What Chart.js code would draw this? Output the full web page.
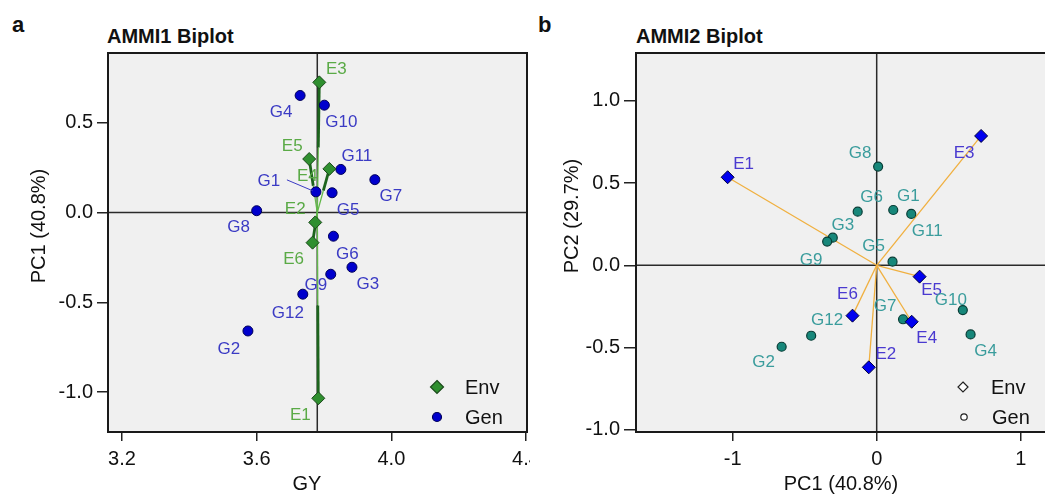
<!DOCTYPE html>
<html>
<head>
<meta charset="utf-8">
<script src="https://cdn.jsdelivr.net/npm/chart.js@4.4.0/dist/chart.umd.min.js"></script>
<style>
  body { margin: 0; background: #fff; width: 1045px; height: 494px; position: relative; overflow: hidden;
         font-family: "Liberation Sans", Arial, sans-serif; }
  .tag { position: absolute; font-weight: bold; color: #111; line-height: 1; white-space: nowrap; }
  #boxA { position: absolute; left: 0; top: 0; width: 530px; height: 494px; overflow: hidden; }
  #boxB { position: absolute; left: 530px; top: 0; width: 515px; height: 494px; overflow: hidden; }
</style>
</head>
<body>
<div class="tag" style="left:12px; top:14px; font-size:22px;">a</div>
<div class="tag" style="left:538px; top:14px; font-size:22px;">b</div>
<div class="tag" style="left:107px; top:26px; font-size:20px;">AMMI1 Biplot</div>
<div class="tag" style="left:636px; top:26px; font-size:20px;">AMMI2 Biplot</div>
<div id="boxA"><canvas id="chartA" width="530" height="494"></canvas></div>
<div id="boxB"><canvas id="chartB" width="522" height="494"></canvas></div>
<script>
// values
const envNames = ['E1', 'E2', 'E3', 'E4', 'E5', 'E6'];
const genNames = ['G1', 'G2', 'G3', 'G4', 'G5', 'G6', 'G7', 'G8', 'G9', 'G10', 'G11', 'G12'];

const envGY = [3.783, 3.774, 3.786, 3.816, 3.756, 3.766];
const genGY = [3.776, 3.574, 3.883, 3.729, 3.824, 3.828, 3.951, 3.600, 3.820, 3.801, 3.850, 3.737];
const meanGY = 3.78;

const envPC1 = [-1.035, -0.055, 0.725, 0.243, 0.298, -0.168];
const genPC1 = [0.115, -0.660, -0.305, 0.652, 0.110, -0.132, 0.183, 0.010, -0.344, 0.598, 0.240, -0.455];

const envPC2 = [0.535, -0.620, 0.786, -0.343, -0.069, -0.306];
const genPC2 = [0.336, -0.495, 0.168, -0.420, 0.022, 0.326, -0.328, 0.600, 0.144, -0.272, 0.312, -0.428];

const gyTicks = [3.2, 3.6, 4.0, 4.4];
const gyTickLabels = ['3.2', '3.6', '4.0', '4.4'];
const pc1TicksA = [-1.0, -0.5, 0.0, 0.5];
const pc1TickLabelsA = ['-1.0', '-0.5', '0.0', '0.5'];
const pc1TicksB = [-1, 0, 1];
const pc1TickLabelsB = ['-1', '0', '1'];
const pc2Ticks = [-1.0, -0.5, 0.0, 0.5, 1.0];
const pc2TickLabels = ['-1.0', '-0.5', '0.0', '0.5', '1.0'];

// label placement (pixel offsets from each point)
const labelOffsetA = {
  E1: [-18, 17], E2: [-20, -13], E3: [17, -13], E4: [-22, 7], E5: [-17, -13], E6: [-19, 17],
  G1: [-47, -11], G2: [-19, 18], G3: [16, 17], G4: [-19, 17], G5: [16, 18], G6: [14, 18],
  G7: [16, 17], G8: [-18, 17], G9: [-15, 11], G10: [17, 17], G11: [16, -13], G12: [-15, 19]
};
const leaderA = { G1: [-29, -12, -3, -1] };
const labelOffsetB = {
  E1: [16, -13], E2: [17, -13], E3: [-17, 17], E4: [15, 17], E5: [12, 14], E6: [-5, -21],
  G1: [15, -14], G2: [-18, 16], G3: [10, -12], G4: [15, 17], G5: [-19, -15], G6: [14, -14],
  G7: [-18, -13], G8: [-18, -13], G9: [-16, 19], G10: [-12, -10], G11: [16, 17], G12: [16, -15]
};

const FONT = '"Liberation Sans", Arial, sans-serif';

function pts(xs, ys) {
  return xs.map((v, i) => ({ x: v, y: ys[i] }));
}

function scaleX(min, max, ticks, labels) {
  return {
    type: 'linear', min: min, max: max,
    afterBuildTicks: s => { s.ticks = ticks.map(v => ({ value: v })); },
    afterFit: s => { s.height = 62; s.paddingLeft = 0; s.paddingRight = 0; },
    grid: { drawOnChartArea: false, drawTicks: true, tickLength: 9, color: '#222', lineWidth: 1.5 },
    border: { display: false },
    ticks: { autoSkip: false, maxRotation: 0, padding: 6, color: '#111',
             font: { family: FONT, size: 20 }, callback: (v, i) => labels[i] },
    title: { display: false }
  };
}

function scaleY(min, max, ticks, labels, width, tickLen) {
  return {
    type: 'linear', min: min, max: max,
    afterBuildTicks: s => { s.ticks = ticks.map(v => ({ value: v })); },
    afterFit: s => { s.width = width; s.paddingTop = 0; s.paddingBottom = 0; },
    grid: { drawOnChartArea: false, drawTicks: true, tickLength: tickLen, color: '#222', lineWidth: 1.5 },
    border: { display: false },
    ticks: { autoSkip: false, padding: 4, color: '#111',
             font: { family: FONT, size: 20 }, callback: (v, i) => labels[i] },
    title: { display: false }
  };
}

function marker(ctx, style, x, y, r, fill, stroke) {
  ctx.beginPath();
  if (style === 'rectRot') {
    ctx.moveTo(x, y - r); ctx.lineTo(x + r, y); ctx.lineTo(x, y + r); ctx.lineTo(x - r, y); ctx.closePath();
  } else {
    ctx.arc(x, y, r, 0, Math.PI * 2);
  }
  if (fill) { ctx.fillStyle = fill; ctx.fill(); }
  ctx.lineWidth = 1.2; ctx.strokeStyle = stroke; ctx.stroke();
}

// background, reference lines, vectors, labels, box, legend, axis titles
function biplot(opt) {
  return {
    id: 'biplot',
    beforeDatasetsDraw(chart) {
      const { ctx, chartArea: a, scales: { x, y } } = chart;
      ctx.save();
      ctx.fillStyle = '#f0f0f0';
      ctx.fillRect(a.left, a.top, a.width, a.height);
      const x0 = x.getPixelForValue(opt.xRef);
      const y0 = y.getPixelForValue(0);
      ctx.strokeStyle = '#2a2a2a';
      ctx.lineWidth = 1.5;
      ctx.beginPath();
      ctx.moveTo(a.left, y0); ctx.lineTo(a.right, y0);
      ctx.moveTo(x0, a.top); ctx.lineTo(x0, a.bottom);
      ctx.stroke();
      opt.vectors(ctx, x, y, x0, y0);
      ctx.restore();
    },
    afterDatasetsDraw(chart) {
      const { ctx, chartArea: a } = chart;
      ctx.save();
      ctx.font = '17px ' + FONT;
      ctx.textAlign = 'center';
      ctx.textBaseline = 'middle';
      chart.data.datasets.forEach((ds, di) => {
        const meta = chart.getDatasetMeta(di);
        const names = ds.label === 'Env' ? envNames : genNames;
        meta.data.forEach((el, i) => {
          const off = opt.offsets[names[i]];
          const lead = opt.leaders && opt.leaders[names[i]];
          if (lead) {
            ctx.strokeStyle = opt.labelColors[di];
            ctx.lineWidth = 1;
            ctx.beginPath();
            ctx.moveTo(el.x + lead[0], el.y + lead[1]);
            ctx.lineTo(el.x + lead[2], el.y + lead[3]);
            ctx.stroke();
          }
          ctx.fillStyle = opt.labelColors[di];
          ctx.fillText(names[i], el.x + off[0], el.y + off[1]);
        });
      });
      ctx.strokeStyle = '#1a1a1a';
      ctx.lineWidth = 2;
      ctx.strokeRect(a.left, a.top, a.width, a.height);
      ctx.restore();
    },
    afterDraw(chart) {
      const ctx = chart.ctx;
      ctx.save();
      ctx.font = '20px ' + FONT;
      ctx.textAlign = 'left';
      ctx.textBaseline = 'middle';
      opt.legend.forEach(it => {
        marker(ctx, it.style, it.x, it.y, it.r, it.fill, it.stroke);
        ctx.fillStyle = '#111';
        ctx.fillText(it.text, it.x + 28, it.y + 1);
      });
      // axis titles
      ctx.textAlign = 'center';
      ctx.fillStyle = '#111';
      ctx.fillText(opt.xTitle.text, opt.xTitle.x, opt.xTitle.y);
      ctx.translate(opt.yTitle.x, opt.yTitle.y);
      ctx.rotate(-Math.PI / 2);
      ctx.fillText(opt.yTitle.text, 0, 0);
      ctx.restore();
    }
  };
}

Chart.defaults.font.family = FONT;

new Chart(document.getElementById('chartA'), {
  type: 'scatter',
  data: {
    datasets: [
      { label: 'Env', data: pts(envGY, envPC1), pointStyle: 'rectRot', pointRadius: 6.5,
        backgroundColor: '#2f8f2f', borderColor: '#1b4a1b', borderWidth: 1 },
      { label: 'Gen', data: pts(genGY, genPC1), pointStyle: 'circle', pointRadius: 5,
        backgroundColor: '#0000cd', borderColor: '#00005a', borderWidth: 1 }
    ]
  },
  options: {
    responsive: false, animation: false, devicePixelRatio: 1,
    layout: { autoPadding: false, padding: { left: 0, top: 53, right: 3, bottom: 0 } },
    plugins: { legend: { display: false }, tooltip: { enabled: false } },
    scales: {
      x: scaleX(3.1584, 4.4029, gyTicks, gyTickLabels),
      y: scaleY(-1.2228, 0.8886, pc1TicksA, pc1TickLabelsA, 108, 11)
    }
  },
  plugins: [biplot({
    xRef: meanGY,
    offsets: labelOffsetA,
    leaders: leaderA,
    labelColors: ['#5aaa46', '#3b3bc4'],
    xTitle: { text: 'GY', x: 307, y: 484 },
    yTitle: { text: 'PC1 (40.8%)', x: 39, y: 226 },
    vectors(ctx, x, y, x0, y0) {
      envGY.forEach((v, i) => {
        const x1 = x.getPixelForValue(v), y1 = y.getPixelForValue(envPC1[i]);
        const xm = (x0 + x1) / 2, ym = (y0 + y1) / 2;
        ctx.strokeStyle = '#62b84a'; ctx.lineWidth = 1.3;
        ctx.beginPath(); ctx.moveTo(x0, y0); ctx.lineTo(xm, ym); ctx.stroke();
        ctx.strokeStyle = '#1d641d'; ctx.lineWidth = 2.8;
        ctx.beginPath(); ctx.moveTo(xm, ym); ctx.lineTo(x1, y1); ctx.stroke();
      });
    },
    legend: [
      { text: 'Env', style: 'rectRot', x: 437, y: 387, r: 6.5, fill: '#2f8f2f', stroke: '#1b4a1b' },
      { text: 'Gen', style: 'circle', x: 437, y: 417, r: 4.5, fill: '#0000cd', stroke: '#00005a' }
    ]
  })]
});

new Chart(document.getElementById('chartB'), {
  type: 'scatter',
  data: {
    datasets: [
      { label: 'Env', data: pts(envPC1, envPC2), pointStyle: 'rectRot', pointRadius: 6.5,
        backgroundColor: '#0000f0', borderColor: '#00003a', borderWidth: 1 },
      { label: 'Gen', data: pts(genPC1, genPC2), pointStyle: 'circle', pointRadius: 4.5,
        backgroundColor: '#17877a', borderColor: '#083d36', borderWidth: 1.2 }
    ]
  },
  options: {
    responsive: false, animation: false, devicePixelRatio: 1,
    layout: { autoPadding: false, padding: { left: 0, top: 53, right: 0, bottom: 0 } },
    plugins: { legend: { display: false }, tooltip: { enabled: false } },
    scales: {
      x: scaleX(-1.6715, 1.2174, pc1TicksB, pc1TickLabelsB),
      y: scaleY(-1.013, 1.29, pc2Ticks, pc2TickLabels, 106, 12)
    }
  },
  plugins: [biplot({
    xRef: 0,
    offsets: labelOffsetB,
    labelColors: ['#4a3ad0', '#3a9c9c'],
    xTitle: { text: 'PC1 (40.8%)', x: 311, y: 484 },
    yTitle: { text: 'PC2 (29.7%)', x: 42, y: 216 },
    vectors(ctx, x, y, x0, y0) {
      ctx.strokeStyle = '#f0b040'; ctx.lineWidth = 1.3;
      envPC1.forEach((v, i) => {
        ctx.beginPath();
        ctx.moveTo(x0, y0);
        ctx.lineTo(x.getPixelForValue(v), y.getPixelForValue(envPC2[i]));
        ctx.stroke();
      });
    },
    legend: [
      { text: 'Env', style: 'rectRot', x: 433, y: 387, r: 5, fill: '#ffffff', stroke: '#222' },
      { text: 'Gen', style: 'circle', x: 434, y: 417, r: 3.2, fill: '#ffffff', stroke: '#222' }
    ]
  })]
});
</script>
</body>
</html>
